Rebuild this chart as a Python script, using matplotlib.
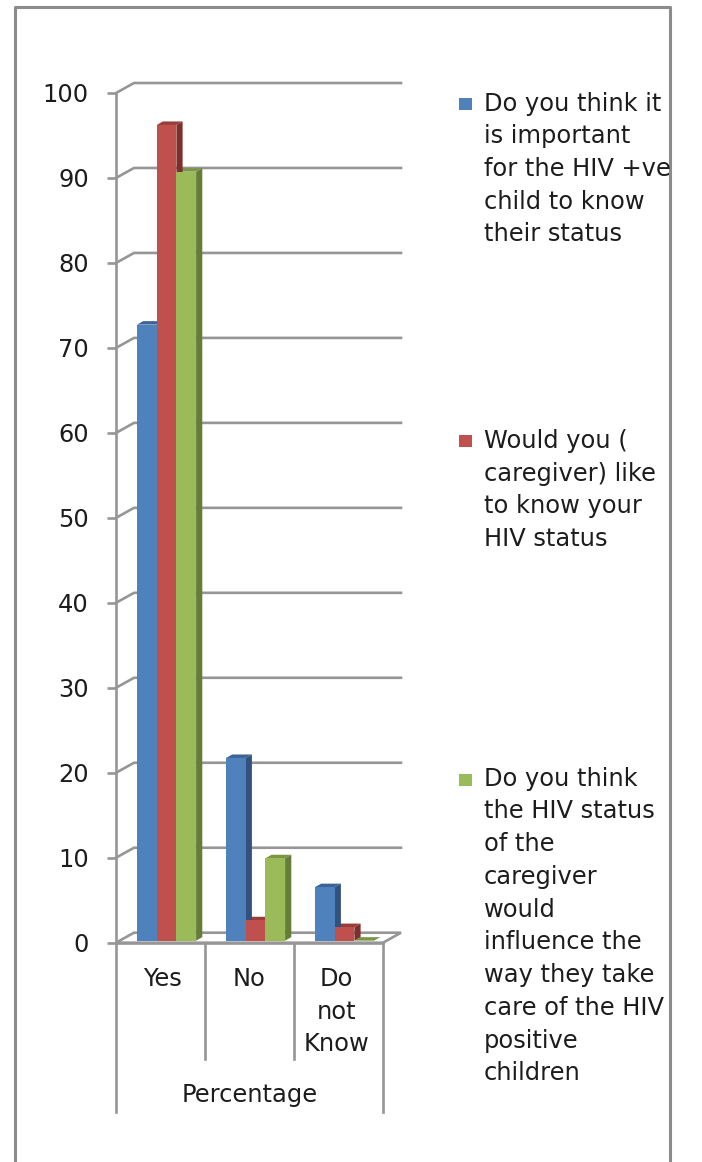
import matplotlib
matplotlib.use("Agg")
import matplotlib.pyplot as plt
from matplotlib.lines import Line2D
from matplotlib.patches import Polygon, Rectangle

W, H = 702, 1162

# ---- Data ----
categories = ["Yes", "No", "Do\nnot\nKnow"]
group_label = "Percentage"
important_child = [72.5, 21.5, 6.3]
caregiver_know = [96.0, 2.4, 1.6]
influence_care = [90.5, 9.7, 0.0]
y_ticks = [0, 10, 20, 30, 40, 50, 60, 70, 80, 90, 100]
legend_labels = [
    "Do you think it\nis important\nfor the HIV +ve\nchild to know\ntheir status",
    "Would you (\ncaregiver) like\nto know your\nHIV status",
    "Do you think\nthe HIV status\nof the\ncaregiver\nwould\ninfluence the\nway they take\ncare of the HIV\npositive\nchildren",
]

# front, side, top colours
colors = [
    ("#4F81BD", "#30527C", "#3B6496"),
    ("#C0504D", "#7E2F2D", "#993C3A"),
    ("#9BBB59", "#667C39", "#7A9645"),
]
series = [important_child, caregiver_know, influence_care]

GRAY = "#969696"
LW = 1.9
TEXT = "#1c1c1c"
FS = 17.4
SPACING = 1.46


def fx(px):
    return px / W


def fy(py):
    return 1 - py / H


fig = plt.figure(figsize=(W / 100, H / 100), dpi=100, facecolor="white")
ax = fig.add_axes([fx(116), fy(942.7), (383 - 116) / W, (942.7 - 93) / H])
ax.set_xlim(0, 3)
ax.set_ylim(0, 100)
ax.patch.set_visible(False)

# depth of the wall and of the bars, in data units
wall_dx, wall_dy = 18 / 89, 10 / 8.5
bar_dx, bar_dy = 6.2 / 89, 3.5 / 8.5
bar_w = 19.7 / 89
start = 21 / 89
base = 0.24

# back wall gridlines
for t in y_ticks[1:]:
    ax.plot([0, wall_dx, 3 + wall_dx], [t, t + wall_dy, t + wall_dy],
            color=GRAY, lw=LW, clip_on=False, zorder=1)

# floor
ax.add_patch(Polygon([(0, 0), (wall_dx, wall_dy), (3 + wall_dx, wall_dy), (3, 0)],
                     closed=True, facecolor="white", edgecolor=GRAY, lw=LW,
                     clip_on=False, zorder=1))

# bars, drawn from the back so the sides sit behind the next front
for i in range(3):
    for j in [2, 1, 0]:
        v = series[j][i]
        x0 = i + start + j * bar_w
        front, side, top = colors[j]
        ax.add_patch(Polygon([(x0 + bar_w, base), (x0 + bar_w + bar_dx, base + bar_dy),
                              (x0 + bar_w + bar_dx, base + v + bar_dy), (x0 + bar_w, base + v)],
                             closed=True, facecolor=side, edgecolor="none", clip_on=False, zorder=3))
        ax.add_patch(Polygon([(x0, base + v), (x0 + bar_dx, base + v + bar_dy),
                              (x0 + bar_w + bar_dx, base + v + bar_dy), (x0 + bar_w, base + v)],
                             closed=True, facecolor=top, edgecolor="none", clip_on=False, zorder=3))
        if v > 0:
            ax.bar(x0, v, width=bar_w, bottom=base, align="edge", color=front, zorder=4)

# axes
for s in ["top", "right", "bottom"]:
    ax.spines[s].set_visible(False)
ax.spines["left"].set_color(GRAY)
ax.spines["left"].set_linewidth(LW)
ax.set_yticks(y_ticks)
ax.tick_params(axis="y", length=6.5, width=LW, color=GRAY, pad=13, labelsize=FS, labelcolor=TEXT)
ax.set_xticks([0.5 + i + 0.02 * (1 - i) for i in range(3)])
ax.set_xticklabels(categories, fontsize=FS, color=TEXT, linespacing=SPACING)
ax.tick_params(axis="x", length=0, pad=17.5)

# category separators below the axis
ax.plot([0, 3], [0, 0], color=GRAY, lw=LW, clip_on=False, zorder=2)
sep_low = -(1059 - 942.7) / 8.5
out_low = -(1112 - 942.7) / 8.5
for x, low in [(0, out_low), (1, sep_low), (2, sep_low), (3, out_low)]:
    ax.plot([x, x], [0, low], color=GRAY, lw=LW, clip_on=False, zorder=2)
ax.text(1.5, -(1095 - 942.7) / 8.5, group_label, ha="center", va="center",
        fontsize=FS, color=TEXT)

# outer frame, open at the bottom
fig.add_artist(Line2D([fx(15), fx(15), fx(670), fx(670)], [0, fy(6.5), fy(6.5), 0],
                      color="#8c8c8c", lw=2.2))

# legend
legend_marker_y = [104, 441, 780]
legend_text_y = [169, 490, 926]
for (front, _, _), label, my, ty in zip(colors, legend_labels, legend_marker_y, legend_text_y):
    fig.add_artist(Rectangle((fx(459), fy(my + 6)), 13 / W, 12 / H, transform=fig.transFigure,
                             facecolor=front, edgecolor="none"))
    fig.text(fx(484), fy(ty), label, ha="left", va="center", fontsize=FS, color=TEXT, linespacing=SPACING)

fig.savefig("out.png", dpi=100, facecolor="white")
